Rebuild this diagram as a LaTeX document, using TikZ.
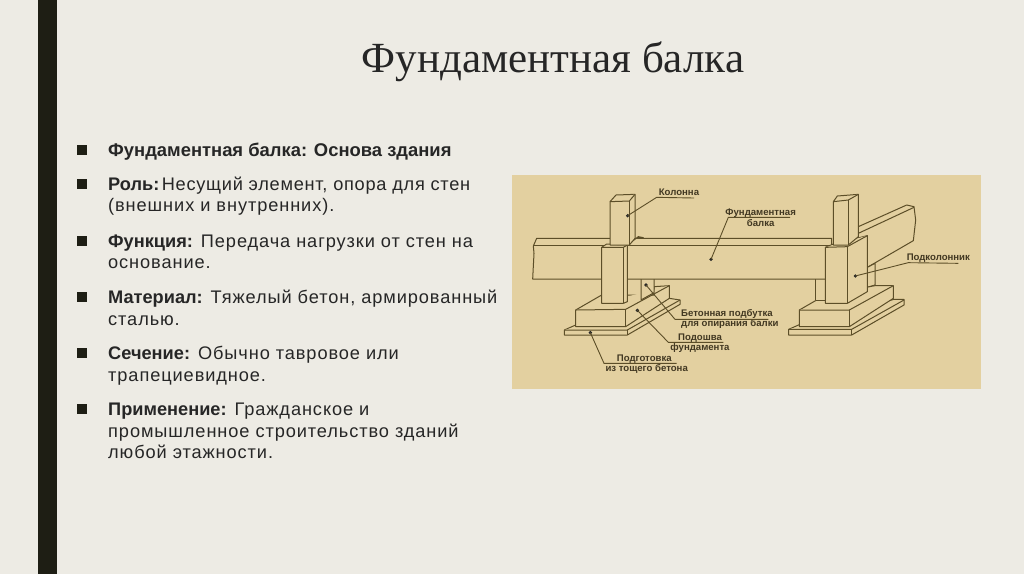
\documentclass[tikz,border=0pt]{standalone}
\usepackage{fontspec}
\setmainfont[LetterSpace=5,BoldFeatures={LetterSpace=0}]{Liberation Sans}
\newfontfamily\titlefont{Liberation Serif}
\newfontfamily\tagfont{Liberation Sans}
\definecolor{slidebg}{RGB}{237,235,228}
\definecolor{barcol}{RGB}{30,30,20}
\definecolor{panelcol}{RGB}{227,208,160}
\definecolor{inkcol}{RGB}{92,78,40}
\definecolor{labelcol}{RGB}{66,56,34}
\tikzset{
  slidetitle/.style={font=\titlefont\fontsize{43}{46}\selectfont,text=black!85,inner sep=0pt},
  bodyline/.style={anchor=base west,font=\fontsize{18.2}{20}\selectfont,text=black!85,inner sep=0pt},
  bulletbox/.style={fill=barcol,minimum size=9.5pt,inner sep=0pt,outer sep=0pt},
  part/.style={draw=inkcol,fill=panelcol,line width=1pt,line join=round},
  tagline/.style={font=\tagfont\fontsize{9.6}{11}\selectfont\bfseries,text=labelcol,inner sep=0pt},
  leader/.style={draw=inkcol,line width=0.9pt},
  tagdot/.style={circle,fill=black!85,inner sep=1.3pt}
}

\begin{document}
\begin{tikzpicture}[x=1pt,y=-1pt]
\useasboundingbox (0,0) rectangle (1024,574);
\fill[slidebg] (0,0) rectangle (1024,574);
\fill[barcol] (38,0) rectangle (57,574);
\node[slidetitle] (title) at (553,62) {Фундаментная балка};

% bullets and text, one node per printed line
\foreach \y in {150,184,241,297,353,409} {
  \node[bulletbox] (bullet\y) at (82,\y) {};
}
\node[bodyline] (fb) at (108,156) {\bfseries\fontsize{18.4}{20}\selectfont Фундаментная балка: Основа здания};
\node[bodyline] (rolea) at (108,190) {\textbf{Роль:}\hspace{-5.5pt} {\addfontfeature{LetterSpace=4}Несущий элемент, опора для стен}};
\node[bodyline] (roleb) at (108,211) {(внешних и внутренних).};
\node[bodyline] (funca) at (108,247) {\textbf{Функция:} Передача нагрузки от стен на};
\node[bodyline] (funcb) at (108,268) {основание.};
\node[bodyline] (mata) at (108,303) {\textbf{Материал:} Тяжелый бетон, армированный};
\node[bodyline] (matb) at (108,325) {сталью.};
\node[bodyline] (seca) at (108,359) {\textbf{Сечение:} Обычно тавровое или};
\node[bodyline] (secb) at (108,381) {трапециевидное.};
\node[bodyline] (appa) at (108,415) {\textbf{Применение:} Гражданское и};
\node[bodyline] (appb) at (108,437) {промышленное строительство зданий};
\node[bodyline] (appc) at (108,458) {любой этажности.};

\fill[panelcol] (512,175) rectangle (981,389);

% right footing, back beam first
\begin{scope}[shift={(750,170)},scale=1/3]
\draw[part] (325,170) -- (470,105) -- (492,110) -- (497,150) -- (490,212) -- (352,292) -- (325,292) -- cycle;
\draw[part] (325,190) -- (492,112);
\draw[part] (352,292) -- (375,280) -- (375,345) -- (352,352) -- cycle;
\draw[part] (116,478) -- (148,464) -- (432,388) -- (462,388) -- (462,405) -- (305,495) -- (116,495) -- cycle;
\draw[part] (116,478) -- (305,478) -- (462,390);
\draw[part] (305,478) -- (305,495);
\draw[part] (148,420) -- (226,375) -- (375,347) -- (430,347) -- (430,385) -- (298,470) -- (148,470) -- cycle;
\draw[part] (148,420) -- (298,420) -- (430,347);
\draw[part] (298,420) -- (298,470);
\draw[part] (195,320) rectangle (230,392);
\end{scope}

% left footing and the long beam
\begin{scope}[shift={(510,170)},scale=1/3]
\draw[part] (163,480) -- (197,465) -- (478,385) -- (510,390) -- (510,403) -- (352,495) -- (163,495) -- cycle;
\draw[part] (163,480) -- (352,480) -- (510,390);
\draw[part] (352,480) -- (352,495);
\draw[part] (432,350) -- (478,347) -- (478,385) -- (347,470) -- (197,470) -- (197,420) -- (275,375) -- (432,375) -- cycle;
\draw[part] (197,420) -- (347,418) -- (478,347);
\draw[part] (347,418) -- (347,470);
\draw[part] (393,320) -- (393,390) -- (432,368) -- (432,320);
\draw[part] (80,205) -- (965,205) -- (965,327) -- (68,327) -- (72,250) -- (70,228) -- cycle;
\draw[part] (70,226) -- (965,226);
\draw[part] (275,232) -- (290,222) -- (352,225) -- (352,395) -- (340,400) -- (275,400) -- cycle;
\draw[part] (275,232) -- (340,232) -- (352,225);
\draw[part] (340,232) -- (340,400);
\draw[part] (352,225) -- (385,200) -- (400,203) -- (375,205);
\draw[part] (300,95) -- (318,75) -- (375,73) -- (375,205) -- (358,225) -- (300,225) -- cycle;
\draw[part] (300,95) -- (358,93) -- (375,73);
\draw[part] (358,93) -- (358,225);

\node[tagline] (kolonna) at (507,67) {Колонна};
\node[tagline] (balkaa) at (752,129) {Фундаментная};
\node[tagline] (balkab) at (752,158) {балка};
\node[tagline,anchor=west] (podbutkaa) at (513,433) {Бетонная подбутка};
\node[tagline,anchor=west] (podbutkab) at (513,463) {для опирания балки};
\node[tagline] (podoshvaa) at (570,504) {Подошва};
\node[tagline] (podoshvab) at (570,534) {фундамента};
\node[tagline] (podgotovkaa) at (403,567) {Подготовка};
\node[tagline] (podgotovkab) at (410,597) {из тощего бетона};

\node[tagdot] (dotkolonna) at (353,137) {};
\node[tagdot] (dotbalka) at (603,268) {};
\node[tagdot] (dotpodbutka) at (408,345) {};
\node[tagdot] (dotpodoshva) at (382,421) {};
\node[tagdot] (dotpodgotovka) at (241,488) {};

\coordinate (kolonnaa) at (440,82);
\coordinate (kolonnab) at (552,84);
\coordinate (balkaelbow) at (655,142);
\coordinate (balkaend) at (840,142);
\coordinate (podbutkaelbow) at (495,448);
\coordinate (podbutkaend) at (775,448);
\coordinate (podoshvaelbow) at (475,517);
\coordinate (podoshvaend) at (640,517);
\coordinate (podgotovkaelbow) at (282,580);
\coordinate (podgotovkaend) at (500,580);

\draw[leader] (dotkolonna.center) -- (kolonnaa) -- (kolonnab);
\draw[leader] (dotbalka.center) -- (balkaelbow) -- (balkaend);
\draw[leader] (dotpodbutka.center) -- (podbutkaelbow) -- (podbutkaend);
\draw[leader] (dotpodoshva.center) -- (podoshvaelbow) -- (podoshvaend);
\draw[leader] (dotpodgotovka.center) -- (podgotovkaelbow) -- (podgotovkaend);
\end{scope}

% right pedestal and column over the beam end
\begin{scope}[shift={(750,170)},scale=1/3]
\draw[part] (226,232) -- (250,222) -- (352,197) -- (352,365) -- (292,400) -- (226,400) -- cycle;
\draw[part] (226,232) -- (292,230) -- (352,197);
\draw[part] (292,230) -- (292,400);
\draw[part] (250,95) -- (262,78) -- (325,73) -- (325,200) -- (295,225) -- (250,225) -- cycle;
\draw[part] (250,95) -- (295,90) -- (325,73);
\draw[part] (295,90) -- (295,225);

\node[tagline] (podkolonnik) at (565,263) {Подколонник};
\node[tagdot] (dotpodkolonnik) at (316,318) {};
\coordinate (podkolonnikelbow) at (475,278);
\coordinate (podkolonnikend) at (625,280);
\draw[leader] (dotpodkolonnik.center) -- (podkolonnikelbow) -- (podkolonnikend);
\end{scope}
\end{tikzpicture}
\end{document}
